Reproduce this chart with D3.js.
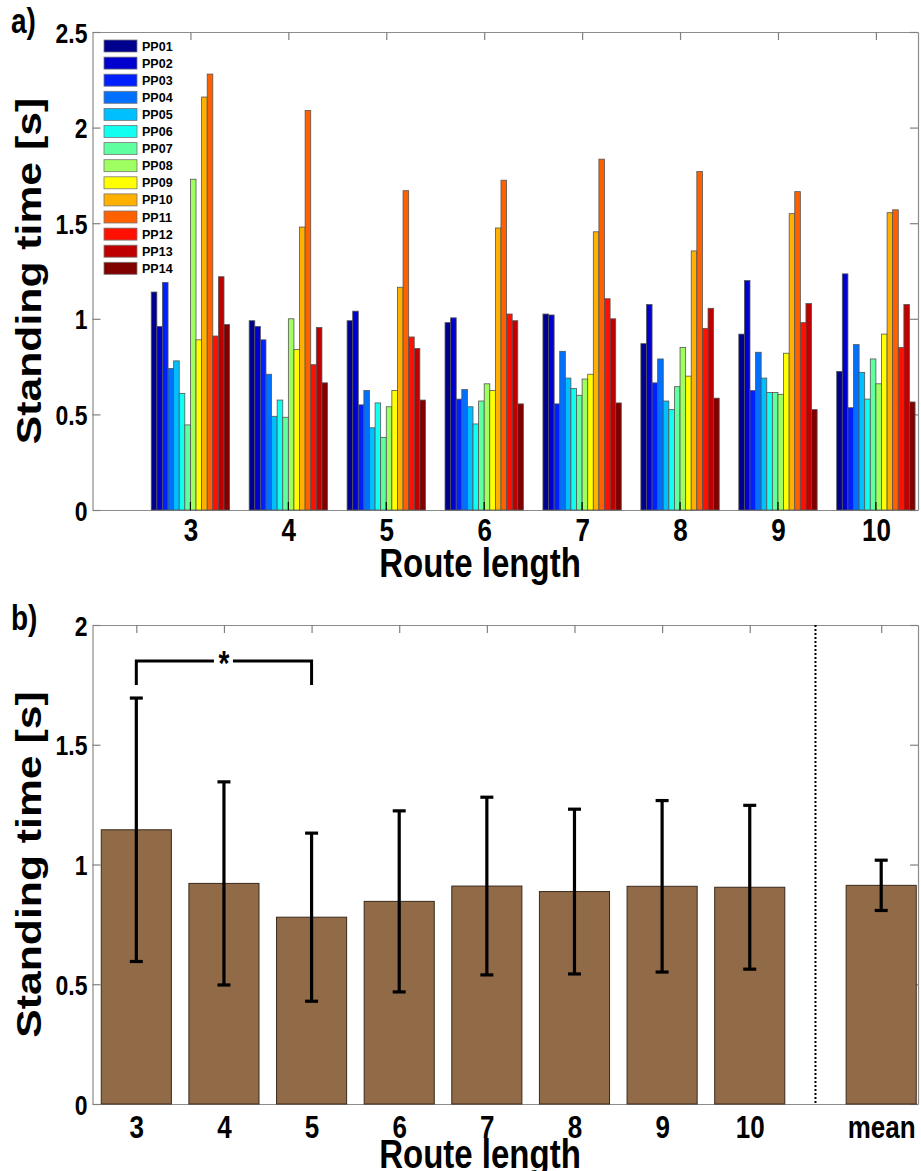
<!DOCTYPE html>
<html>
<head>
<meta charset="utf-8">
<script src="https://cdn.jsdelivr.net/npm/d3@7"></script>
<style>
body{margin:0;background:#fff;}
svg text{font-family:"Liberation Sans",Arial,sans-serif;font-weight:bold;fill:#000;}
.ax path,.ax line{stroke:#808080;stroke-width:1.2;}
</style>
</head>
<body>
<svg id="fig" width="921" height="1171"></svg>
<script>
'use strict'
// panel a: standing time per participant, one value per route length
var routeLengths = [3, 4, 5, 6, 7, 8, 9, 10];
var participants = ['PP01','PP02','PP03','PP04','PP05','PP06','PP07','PP08','PP09','PP10','PP11','PP12','PP13','PP14'];
var PP01 = [1.14, 0.99, 0.99, 0.98, 1.025, 0.87, 0.92, 0.725];
var PP02 = [0.96, 0.96, 1.04, 1.005, 1.02, 1.075, 1.20, 1.235];
var PP03 = [1.19, 0.89, 0.55, 0.58, 0.555, 0.665, 0.625, 0.535];
var PP04 = [0.74, 0.71, 0.625, 0.63, 0.83, 0.79, 0.825, 0.865];
var PP05 = [0.78, 0.49, 0.43, 0.54, 0.69, 0.57, 0.69, 0.72];
var PP06 = [0.61, 0.575, 0.56, 0.45, 0.635, 0.525, 0.615, 0.58];
var PP07 = [0.445, 0.485, 0.38, 0.57, 0.60, 0.645, 0.615, 0.79];
var PP08 = [1.73, 1.0, 0.54, 0.66, 0.685, 0.85, 0.605, 0.66];
var PP09 = [0.89, 0.84, 0.625, 0.625, 0.71, 0.70, 0.82, 0.92];
var PP10 = [2.16, 1.48, 1.165, 1.475, 1.455, 1.355, 1.55, 1.555];
var PP11 = [2.28, 2.09, 1.67, 1.725, 1.835, 1.77, 1.665, 1.57];
var PP12 = [0.91, 0.76, 0.905, 1.025, 1.105, 0.95, 0.98, 0.85];
var PP13 = [1.22, 0.955, 0.845, 0.99, 1.0, 1.055, 1.08, 1.075];
var PP14 = [0.97, 0.665, 0.575, 0.555, 0.56, 0.585, 0.525, 0.565];
var series = [PP01, PP02, PP03, PP04, PP05, PP06, PP07, PP08, PP09, PP10, PP11, PP12, PP13, PP14];
var ppColors = ['#00008f','#0000cf','#0020ff','#0070ff','#00bfff','#10fff0','#60ffa0',
	'#a0ff60','#ffff00','#ffb000','#ff6000','#ff1000','#bf0000','#800000'];
var ticksA = [0, 0.5, 1, 1.5, 2, 2.5];

// panel b: mean +- sd over participants
var groupLabels = ['3','4','5','6','7','8','9','10','mean'];
var groupMean = [1.145, 0.921, 0.780, 0.846, 0.910, 0.887, 0.909, 0.905, 0.913];
var groupSd = [0.55, 0.424, 0.351, 0.378, 0.371, 0.344, 0.358, 0.342, 0.105];
var ticksB = [0, 0.5, 1, 1.5, 2];
var sigPair = ['3', '5'];
var sigLevel = 1.85, sigDrop = 0.1;

var K = 1.22; // the figure text is stretched vertically
var svg = d3.select('#fig');
var L = 92.5, R = 918;
var A = {top: 32, bottom: 510, lab: 31}, B = {top: 625, bottom: 1104, lab: 34};

var xa = d3.scaleLinear().domain([2, 10.43]).range([L, R]);
var ya = d3.scaleLinear().domain([0, 2.5]).range([A.bottom, A.top]);
var xb = d3.scaleLinear().domain([2.5, 11.92]).range([L, R]);
var yb = d3.scaleLinear().domain([0, 2]).range([B.bottom, B.top]);

function pos(lab){ return lab === 'mean' ? 11.5 : +lab; }

function label(x, y, txt, size, anchor, rot){
	return svg.append('text')
		.attr('transform', 'translate('+x+','+y+') scale(1,'+K+')' + (rot ? ' rotate(-90)' : ''))
		.attr('text-anchor', anchor || 'middle')
		.style('font-size', size+'px')
		.text(txt);
}

// box with inward ticks on all sides
function frame(x, y, box, xticks, fmt, yticks){
	var g = svg.append('g');
	g.append('g').attr('class','ax').attr('transform','translate(0,'+box.bottom+')')
		.call(d3.axisBottom(x).tickValues(xticks).tickFormat(fmt).tickSizeInner(-8).tickSizeOuter(0))
		.call(function(a){
			a.selectAll('text').attr('y', box.lab/K).attr('dy', 0)
				.attr('transform','scale(1,'+K+')').style('font-size','26px');
		});
	g.append('g').attr('class','ax').attr('transform','translate(0,'+box.top+')')
		.call(d3.axisTop(x).tickValues(xticks).tickFormat('').tickSizeInner(-8).tickSizeOuter(0));
	g.append('g').attr('class','ax').attr('transform','translate('+L+',0)')
		.call(d3.axisLeft(y).tickValues(yticks).tickFormat(d3.format('')).tickSizeInner(-8).tickSizeOuter(0).tickPadding(5))
		.call(function(a){
			a.selectAll('text').attr('dy','0.36em')
				.attr('transform','scale(1,'+K+')').style('font-size','23px');
		});
	g.append('g').attr('class','ax').attr('transform','translate('+R+',0)')
		.call(d3.axisRight(y).tickValues(yticks).tickFormat('').tickSizeInner(-8).tickSizeOuter(0));
	g.selectAll('.domain').style('stroke','#8c8c8c');
	return g;
}

// ---- panel a
frame(xa, ya, A, routeLengths, d3.format('d'), ticksA);

var gw = 0.8, bw = gw / series.length;
var gA = svg.append('g');
series.forEach(function(vals, s){
	gA.append('g').selectAll('rect').data(vals).join('rect')
		.attr('x', function(d, i){ return xa(routeLengths[i] - gw/2 + s*bw); })
		.attr('width', xa(bw) - xa(0))
		.attr('y', function(d){ return ya(d); })
		.attr('height', function(d){ return ya(0) - ya(d); })
		.attr('fill', ppColors[s])
		.attr('stroke', '#555').attr('stroke-width', 0.8);
});
// bottom ticks show above the bars
gA.selectAll('line.tk').data(routeLengths).join('line').attr('class','tk')
	.attr('x1', function(d){ return xa(d); }).attr('x2', function(d){ return xa(d); })
	.attr('y1', A.bottom).attr('y2', A.bottom - 8)
	.attr('stroke', '#000').attr('stroke-width', 1.2);

var leg = svg.append('g').attr('transform','translate(104,40)');
leg.selectAll('rect').data(participants).join('rect')
	.attr('x', 0).attr('y', function(d, i){ return i*17.1; })
	.attr('width', 33).attr('height', 12)
	.attr('fill', function(d, i){ return ppColors[i]; })
	.attr('stroke', '#777').attr('stroke-width', 0.8);
leg.selectAll('text').data(participants).join('text')
	.attr('x', 38).attr('y', function(d, i){ return i*17.1 + 10.5; })
	.style('font-size', '12.5px')
	.text(function(d){ return d; });

label(480, 577, 'Route length', 33);
label(41, (A.top + A.bottom)/2, 'Standing time [s]', 35, 'middle', true);
label(11, 33, 'a)', 28, 'start');

// ---- panel b
frame(xb, yb, B, groupLabels.map(pos), function(d){ return d === 11.5 ? 'mean' : d; }, ticksB);

var bwB = 0.8;
var gB = svg.append('g');
gB.selectAll('rect').data(groupLabels).join('rect')
	.attr('x', function(d){ return xb(pos(d) - bwB/2); })
	.attr('width', xb(bwB) - xb(0))
	.attr('y', function(d, i){ return yb(groupMean[i]); })
	.attr('height', function(d, i){ return yb(0) - yb(groupMean[i]); })
	.attr('fill', '#916a48').attr('stroke', '#3a2a1c').attr('stroke-width', 1);

// error bars
var err = gB.selectAll('g.err').data(groupLabels).join('g').attr('class','err')
	.attr('stroke', '#000').attr('stroke-width', 3.2);
err.append('line')
	.attr('x1', function(d){ return xb(pos(d)); }).attr('x2', function(d){ return xb(pos(d)); })
	.attr('y1', function(d, i){ return yb(groupMean[i] - groupSd[i]); })
	.attr('y2', function(d, i){ return yb(groupMean[i] + groupSd[i]); });
[-1, 1].forEach(function(sg){
	err.append('line')
		.attr('x1', function(d){ return xb(pos(d)) - 6.5; }).attr('x2', function(d){ return xb(pos(d)) + 6.5; })
		.attr('y1', function(d, i){ return yb(groupMean[i] + sg*groupSd[i]); })
		.attr('y2', function(d, i){ return yb(groupMean[i] + sg*groupSd[i]); });
});

// separator before the mean
gB.append('line')
	.attr('x1', xb(10.75)).attr('x2', xb(10.75))
	.attr('y1', B.top).attr('y2', B.bottom)
	.attr('stroke', '#000').attr('stroke-width', 2).attr('stroke-dasharray', '2,2');

// significance bracket
var s0 = xb(pos(sigPair[0])), s1 = xb(pos(sigPair[1])), sm = (s0 + s1)/2;
var sy = yb(sigLevel), sd = yb(sigLevel - sigDrop);
gB.append('path')
	.attr('d', 'M'+s0+','+sd+'V'+sy+'H'+(sm - 10)+'M'+(sm + 9)+','+sy+'H'+s1+'V'+sd)
	.attr('fill', 'none').attr('stroke', '#000').attr('stroke-width', 3);
label(sm, sy + 14, '*', 28);

label(480, 1168, 'Route length', 33);
label(41, (B.top + B.bottom)/2, 'Standing time [s]', 35, 'middle', true);
label(11, 630, 'b)', 28, 'start');
</script>
</body>
</html>
